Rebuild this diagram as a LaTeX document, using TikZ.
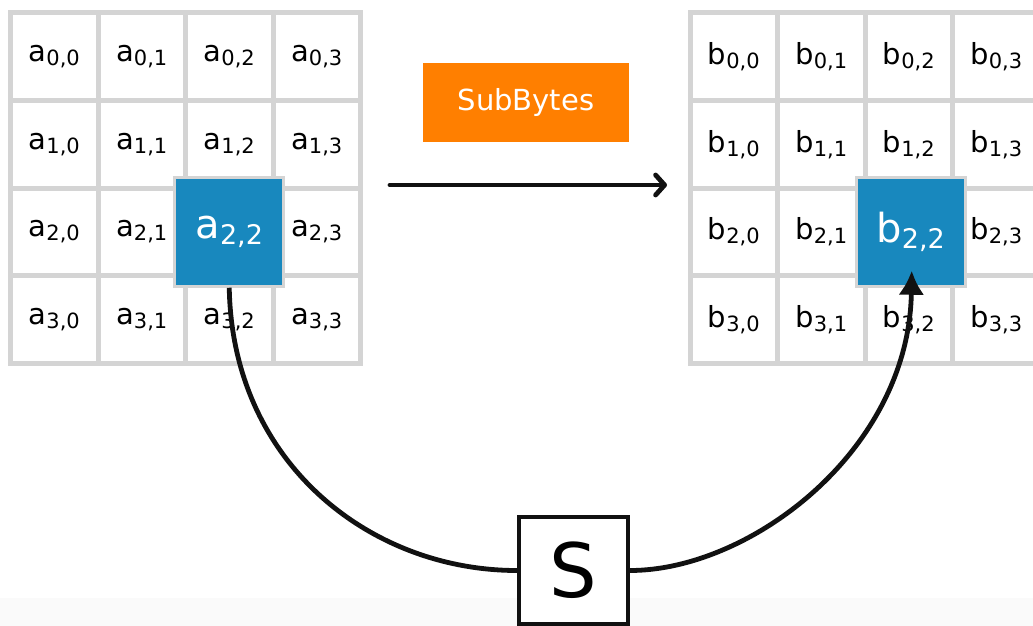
\documentclass[tikz,border=0pt]{standalone}
\usepackage{fontspec}
\setmainfont{DejaVu Sans}
\usetikzlibrary{calc,arrows.meta}

\definecolor{gridgray}{HTML}{D4D4D4}
\definecolor{cellblue}{HTML}{1888BE}
\definecolor{boxorange}{HTML}{FF7F00}
\definecolor{inkblack}{HTML}{111111}
\definecolor{hazegray}{HTML}{FAFAFA}

% cell label: letter with a two-index subscript
\newcommand\cellab[3]{{\fontsize{29}{29}\selectfont #1}\raisebox{-4pt}{\fontsize{21}{21}\selectfont #2,#3}}
\newcommand\biglab[3]{{\fontsize{40}{40}\selectfont #1}\raisebox{-6pt}{\fontsize{27}{27}\selectfont #2,#3}}

\tikzset{
  cellbox/.style={rectangle, draw=gridgray, line width=5pt, minimum size=87.5pt,
                  inner sep=0pt, text=black},
  hotcell/.style={rectangle, draw=gridgray, line width=3pt, fill=cellblue,
                  minimum size=109pt, inner sep=0pt, text=white},
  opbox/.style={rectangle, fill=boxorange, minimum width=206pt, minimum height=79pt,
                inner sep=0pt, text=white, font=\fontsize{29}{29}\selectfont},
  sbox/.style={rectangle, draw=inkblack, line width=4pt, fill=white,
               minimum width=109pt, minimum height=107pt, inner sep=0pt,
               font=\fontsize{75}{75}\selectfont},
  wire/.style={draw=inkblack, line width=4.8pt},
}

\begin{document}
\begin{tikzpicture}[x=1pt,y=-1pt]
  \useasboundingbox (0,0) rectangle (1033,626);
  \fill[white] (0,0) rectangle (1033,626);
  \fill[hazegray] (0,598) rectangle (1033,626);

  % input state matrix (the highlighted byte gets its own node below)
  \foreach \r in {0,...,3}{
    \foreach \c in {0,...,3}{
      \node[cellbox] (a-\r-\c) at ({10.5+43.75+87.5*\c},{13+43.75+87.5*\r})
        {\ifnum\r\c=22 \else\cellab{a}{\r}{\c}\fi};
    }
  }
  % output state matrix
  \foreach \r in {0,...,3}{
    \foreach \c in {0,...,3}{
      \node[cellbox] (b-\r-\c) at ({690+43.75+87.5*\c},{13+43.75+87.5*\r})
        {\ifnum\r\c=22 \else\cellab{b}{\r}{\c}\fi};
    }
  }

  % highlighted bytes
  \node[hotcell] (A22) at (a-2-2.center) {\biglab{a}{2}{2}};
  \node[hotcell] (B22) at ($(b-2-2.center)+(2,0)$) {\biglab{b}{2}{2}};

  % operation label and direction arrow
  \node[opbox] (op) at (526,102.5) {SubBytes};
  \coordinate (flowS) at (390,185);
  \coordinate (flowE) at (667,185);
  \draw[wire, line cap=round,
        -{Straight Barb[length=9pt,width=20pt,line cap=round,line join=round]}]
       (flowS) -- (flowE);

  % S-box lookup
  \node[sbox] (S) at (573.5,570.5) {S};
  \coordinate (tipB) at ($(B22.center)+(1,39)$);

  \draw[wire] (A22.south) .. controls ($(A22.south)+(3,175)$) and ($(S.west)+(-147,0)$) .. (S.west);
  \draw[wire, -{Latex[length=24pt,width=26pt]}]
       (S.east) .. controls ($(S.east)+(120,0)$) and ($(tipB)+(-3,180)$) .. (tipB);
\end{tikzpicture}
\end{document}
